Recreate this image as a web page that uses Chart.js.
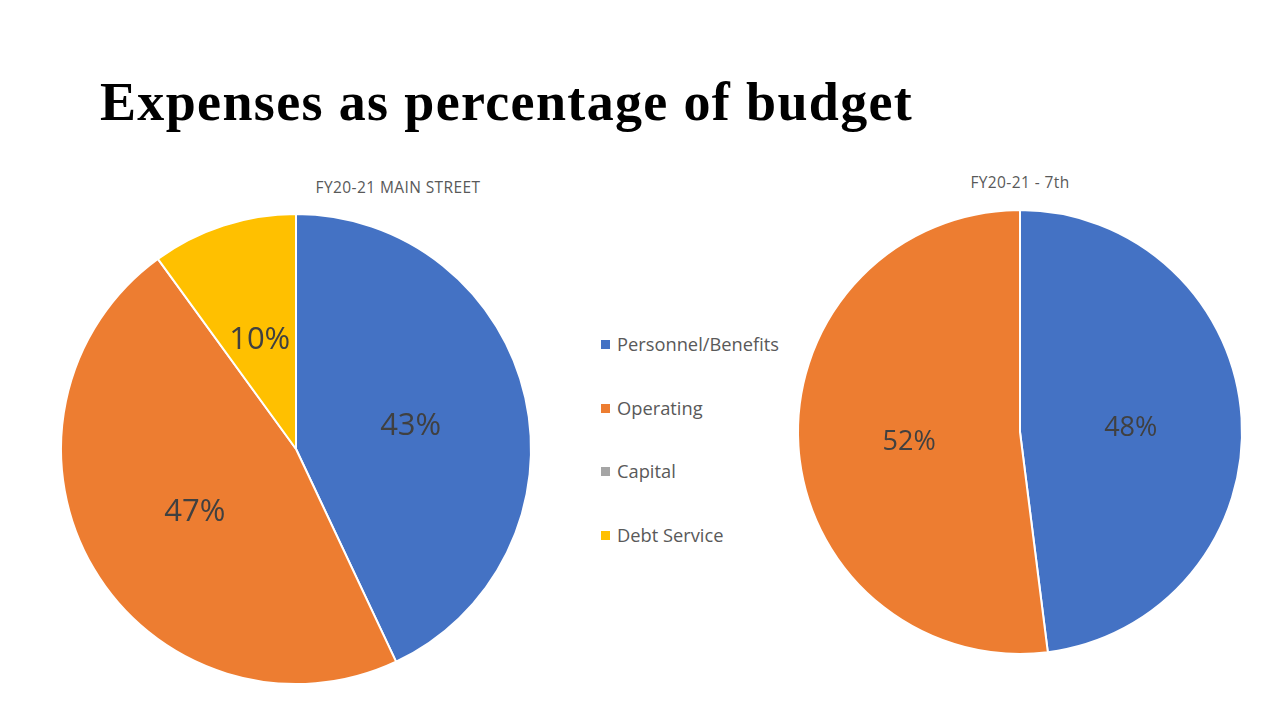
<!DOCTYPE html>
<html>
<head>
<meta charset="utf-8">
<script src="https://cdn.jsdelivr.net/npm/chart.js@4/dist/chart.umd.min.js"></script>
<style>
  html, body { margin: 0; padding: 0; background: #fff; }
  body { width: 1280px; height: 720px; position: relative; overflow: hidden; }
  #title { position: absolute; left: 100px; top: 75px; font-family: "Liberation Serif", serif; font-weight: bold; font-size: 54px; letter-spacing: 1.35px; color: #000; white-space: nowrap; line-height: 1; }
  .sub { position: absolute; font-family: "Open Sans", sans-serif; font-size: 15.5px; letter-spacing: 0.4px; color: #595959; white-space: nowrap; transform: translateX(-50%); }
  canvas { position: absolute; }
  #legend { position: absolute; left: 600px; top: 332px; font-family: "Open Sans", sans-serif; font-size: 18.3px; color: #595959; }
  .li { position: absolute; left: 0; white-space: nowrap; height: 24px; line-height: 24px; }
  .sw { position: absolute; left: 1px; top: 8px; width: 9px; height: 9px; }
  .lt { position: absolute; left: 17px; top: 0; }
</style>
</head>
<body>
<div id="title">Expenses as percentage of budget</div>
<div class="sub" style="left:398px; top:176px;">FY20-21 MAIN STREET</div>
<div class="sub" style="left:1020px; top:171px;">FY20-21 - 7th</div>
<canvas id="c1" width="480" height="480" style="left:56px; top:209px;"></canvas>
<canvas id="c2" width="460" height="460" style="left:790px; top:202px;"></canvas>
<div id="legend"></div>
<script>
const categories = ["Personnel/Benefits", "Operating", "Capital", "Debt Service"];
const colors = ["#4472C4", "#ED7D31", "#A5A5A5", "#FFC000"];
const mainStreetTitle = "FY20-21 MAIN STREET";
const mainStreetValues = [43, 47, 0, 10];
const seventhTitle = "FY20-21 - 7th";
const seventhValues = [48, 52, 0, 0];

const pctLabels = {
  id: 'pctLabels',
  afterDatasetsDraw(chart, args, opts) {
    const ctx = chart.ctx;
    const ds = chart.data.datasets[0];
    const meta = chart.getDatasetMeta(0);
    const total = ds.data.reduce((a, b) => a + b, 0);
    ctx.save();
    ctx.font = opts.size + 'px "Open Sans", sans-serif';
    ctx.fillStyle = '#404040';
    ctx.textAlign = 'center';
    ctx.textBaseline = 'middle';
    meta.data.forEach((arc, i) => {
      const v = ds.data[i];
      if (!v) return;
      const p = arc.tooltipPosition();
      ctx.fillText(Math.round(v / total * 100) + '%', p.x, p.y + 3);
    });
    ctx.restore();
  }
};

function makePie(id, values, radius, labelSize) {
  return new Chart(document.getElementById(id), {
    type: 'pie',
    data: {
      labels: categories,
      datasets: [{ data: values, backgroundColor: colors, borderColor: '#ffffff', borderWidth: 2 }]
    },
    options: {
      responsive: false,
      animation: false,
      radius: radius,
      layout: { padding: 0 },
      plugins: {
        legend: { display: false },
        tooltip: { enabled: false },
        pctLabels: { size: labelSize }
      }
    },
    plugins: [pctLabels]
  });
}

makePie('c1', mainStreetValues, 235, 31);
makePie('c2', seventhValues, 222, 27);

const legend = document.getElementById('legend');
categories.forEach((c, i) => {
  const li = document.createElement('div');
  li.className = 'li';
  li.style.top = (i * 63.5) + 'px';
  li.innerHTML = '<span class="sw" style="background:' + colors[i] + '"></span><span class="lt">' + c + '</span>';
  legend.appendChild(li);
});
</script>
</body>
</html>
